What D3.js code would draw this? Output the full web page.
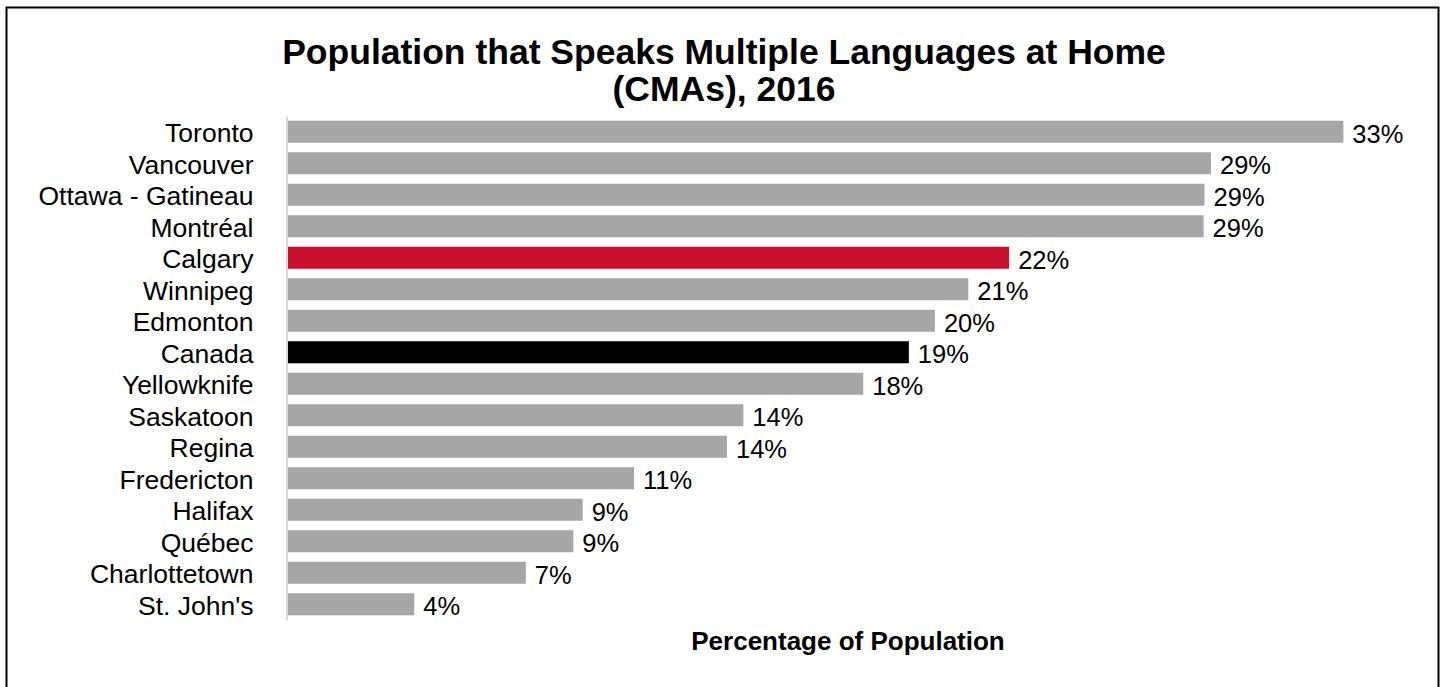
<!DOCTYPE html>
<html>
<head>
<meta charset="utf-8">
<script src="https://cdn.jsdelivr.net/npm/d3@7"></script>
<style>
  html, body { margin: 0; padding: 0; background: #fff; }
  svg { display: block; font-family: "Liberation Sans", Arial, sans-serif; }
</style>
</head>
<body>
<svg id="chart" width="1443" height="687"></svg>
<script>
// ---- data ----
const categories = ["Toronto", "Vancouver", "Ottawa - Gatineau", "Montréal", "Calgary", "Winnipeg",
  "Edmonton", "Canada", "Yellowknife", "Saskatoon", "Regina", "Fredericton", "Halifax", "Québec",
  "Charlottetown", "St. John's"];
const values = [32.87, 28.75, 28.55, 28.52, 22.47, 21.2, 20.16, 19.35, 17.93, 14.2, 13.69, 10.8, 9.2, 8.91, 7.43, 3.96];
const highlight = { "Calgary": "#c8102e", "Canada": "#000000" };
const titleLines = ["Population that Speaks Multiple Languages at Home", "(CMAs), 2016"];
const xAxisTitle = "Percentage of Population";

const data = categories.map((c, i) => ({ cat: c, val: values[i] }));

const svg = d3.select("#chart");

// border
svg.append("rect").attr("x", 6.5).attr("y", 7.5).attr("width", 1432).attr("height", 700)
  .attr("fill", "none").attr("stroke", "#000").attr("stroke-width", 2);

const x = d3.scaleLinear().domain([0, 34.85]).range([287, 1407]);
const y = d3.scaleBand().domain(categories).range([116, 620]).paddingInner(0.3).paddingOuter(0.15);

// title
svg.append("g").selectAll("text").data(titleLines).join("text")
  .attr("x", 724).attr("y", (d, i) => 64 + i * 37)
  .attr("text-anchor", "middle").attr("font-size", 35.5).attr("font-weight", "bold").attr("fill", "#000")
  .text(d => d);

// bars
svg.append("g").selectAll("rect").data(data).join("rect")
  .attr("x", x(0)).attr("y", d => y(d.cat))
  .attr("width", d => x(d.val) - x(0)).attr("height", y.bandwidth())
  .attr("fill", d => highlight[d.cat] || "#a6a6a6");

// y axis (category labels, axis line)
const yAxis = d3.axisLeft(y).tickSize(0).tickPadding(33);
const gy = svg.append("g").attr("transform", `translate(${x(0) - 0.5},0)`).call(yAxis);
gy.select(".domain").attr("stroke", "#d9d9d9").attr("stroke-width", 2);
gy.selectAll("text").attr("font-size", 26.5).attr("fill", "#000")
  .attr("font-family", "'Liberation Sans', Arial, sans-serif").attr("dy", "0.4em");

// value labels
svg.append("g").selectAll("text").data(data).join("text")
  .attr("x", d => x(d.val) + 9).attr("y", d => y(d.cat) + y.bandwidth() / 2 + 2)
  .attr("dy", "0.36em").attr("font-size", 25.5).attr("fill", "#000")
  .text(d => d3.format(".0f")(d.val) + "%");

// x axis title
svg.append("text").attr("x", 848).attr("y", 650).attr("text-anchor", "middle")
  .attr("font-size", 26).attr("font-weight", "bold").attr("fill", "#000").text(xAxisTitle);
</script>
</body>
</html>
